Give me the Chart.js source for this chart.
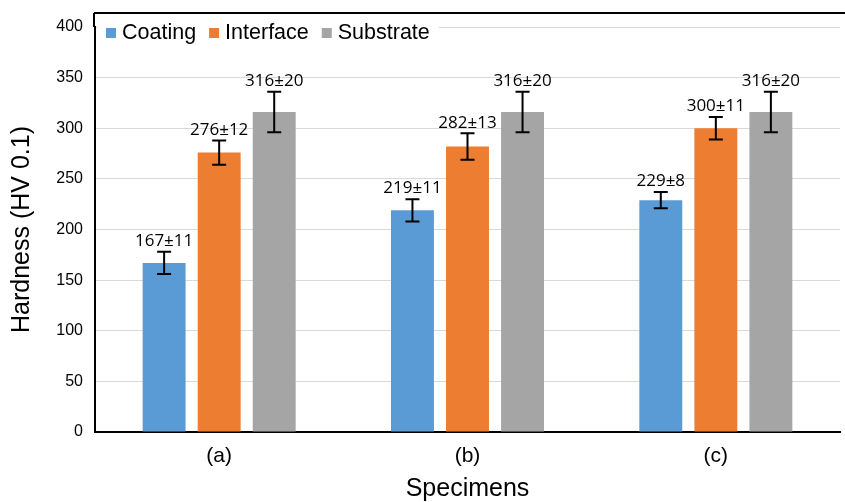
<!DOCTYPE html>
<html>
<head>
<meta charset="utf-8">
<script src="https://cdn.jsdelivr.net/npm/chart.js@4"></script>
<style>
  html, body { margin: 0; padding: 0; background: #fff; }
  #wrap { width: 845px; height: 502px; }
</style>
</head>
<body>
<div id="wrap"><canvas id="hardnessChart" width="845" height="502"></canvas></div>
<script>
// Data
const specimens = ['(a)', '(b)', '(c)'];
const coating = [167, 219, 229];
const coatingErr = [11, 11, 8];
const iface = [276, 282, 300];
const ifaceErr = [12, 13, 11];
const substrate = [316, 316, 316];
const substrateErr = [20, 20, 20];
const seriesNames = ['Coating', 'Interface', 'Substrate'];
const seriesColors = ['#5B9BD5', '#ED7D31', '#A5A5A5'];

// error bars + value labels
const errorBarPlugin = {
    id: 'errorBars',
    afterDatasetsDraw(chart) {
        const ctx = chart.ctx;
        const y = chart.scales.y;
        chart.data.datasets.forEach((ds, di) => {
            const meta = chart.getDatasetMeta(di);
            meta.data.forEach((bar, i) => {
                const v = ds.data[i];
                const e = ds.errors[i];
                const top = y.getPixelForValue(v + e);
                const bot = y.getPixelForValue(v - e);
                ctx.save();
                ctx.strokeStyle = '#000';
                ctx.lineWidth = 2;
                ctx.beginPath();
                ctx.moveTo(bar.x, top);
                ctx.lineTo(bar.x, bot);
                ctx.moveTo(bar.x - 7, top);
                ctx.lineTo(bar.x + 7, top);
                ctx.moveTo(bar.x - 7, bot);
                ctx.lineTo(bar.x + 7, bot);
                ctx.stroke();
                ctx.fillStyle = '#000';
                ctx.font = '17px "Open Sans", sans-serif';
                ctx.textAlign = 'center';
                ctx.textBaseline = 'bottom';
                ctx.fillText(v + '±' + e, bar.x, top - 2);
                ctx.restore();
            });
        });
    },
    afterDraw(chart) {
        const ctx = chart.ctx;
        const area = chart.chartArea;
        ctx.save();
        // frame line at the top and left edge
        ctx.strokeStyle = '#000';
        ctx.lineWidth = 2;
        ctx.beginPath();
        ctx.moveTo(area.left - 1, 13);
        ctx.lineTo(845, 13);
        ctx.moveTo(area.left - 1, 13);
        ctx.lineTo(area.left - 1, area.top);
        ctx.stroke();
        // legend with white box
        ctx.fillStyle = '#fff';
        ctx.fillRect(area.left + 2, 18, 342, 30);
        ctx.font = '21.5px "Liberation Sans", Arial, sans-serif';
        ctx.textBaseline = 'middle';
        ctx.textAlign = 'left';
        let x = area.left + 11;
        seriesNames.forEach((name, i) => {
            ctx.fillStyle = seriesColors[i];
            ctx.fillRect(x, 28, 10, 10);
            ctx.fillStyle = '#000';
            ctx.fillText(name, x + 16, 33);
            x += 16 + ctx.measureText(name).width + 13;
        });
        ctx.restore();
    }
};

const ctx = document.getElementById('hardnessChart').getContext('2d');
new Chart(ctx, {
    type: 'bar',
    data: {
        labels: specimens,
        datasets: [
            { label: seriesNames[0], data: coating, errors: coatingErr, backgroundColor: seriesColors[0] },
            { label: seriesNames[1], data: iface, errors: ifaceErr, backgroundColor: seriesColors[1] },
            { label: seriesNames[2], data: substrate, errors: substrateErr, backgroundColor: seriesColors[2] }
        ]
    },
    options: {
        responsive: false,
        animation: false,
        categoryPercentage: 0.665,
        barPercentage: 0.78,
        layout: { padding: { top: 27, right: 5, left: 0, bottom: 0 } },
        plugins: {
            legend: { display: false },
            tooltip: { enabled: false }
        },
        scales: {
            x: {
                grid: { display: false },
                border: { color: '#000', width: 2 },
                ticks: {
                    color: '#000',
                    padding: 4,
                    font: { family: '"Liberation Sans", Arial, sans-serif', size: 21 }
                },
                title: {
                    display: true,
                    text: 'Specimens',
                    color: '#000',
                    padding: { top: 4, bottom: 0 },
                    font: { family: '"Liberation Sans", Arial, sans-serif', size: 25, lineHeight: 1 }
                },
                afterFit(scale) { scale.height = 70; }
            },
            y: {
                min: 0,
                max: 400,
                ticks: {
                    stepSize: 50,
                    color: '#000',
                    padding: 12,
                    font: { family: '"Liberation Sans", Arial, sans-serif', size: 16 }
                },
                grid: { color: '#d9d9d9', lineWidth: 1, drawTicks: false },
                border: { color: '#000', width: 2 },
                title: {
                    display: true,
                    text: 'Hardness (HV 0.1)',
                    color: '#000',
                    padding: { top: 10, bottom: 0 },
                    font: { family: '"Liberation Sans", Arial, sans-serif', size: 25, lineHeight: 1 }
                },
                afterFit(scale) { scale.width = 95; }
            }
        }
    },
    plugins: [errorBarPlugin]
});
</script>
</body>
</html>
